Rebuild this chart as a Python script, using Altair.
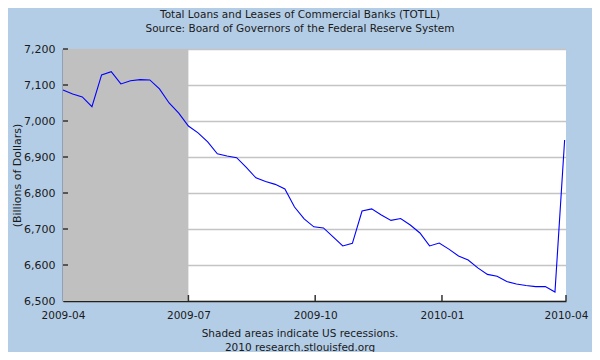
import altair as alt
import pandas as pd

# ---- data -------------------------------------------------------------
dates = [
    "2009-04-01", "2009-04-08", "2009-04-15", "2009-04-22", "2009-04-29",
    "2009-05-06", "2009-05-13", "2009-05-20", "2009-05-27",
    "2009-06-03", "2009-06-10", "2009-06-17", "2009-06-24",
    "2009-07-01", "2009-07-08", "2009-07-15", "2009-07-22", "2009-07-29",
    "2009-08-05", "2009-08-12", "2009-08-19", "2009-08-26",
    "2009-09-02", "2009-09-09", "2009-09-16", "2009-09-23", "2009-09-30",
    "2009-10-07", "2009-10-14", "2009-10-21", "2009-10-28",
    "2009-11-04", "2009-11-11", "2009-11-18", "2009-11-25",
    "2009-12-02", "2009-12-09", "2009-12-16", "2009-12-23", "2009-12-30",
    "2010-01-06", "2010-01-13", "2010-01-20", "2010-01-27",
    "2010-02-03", "2010-02-10", "2010-02-17", "2010-02-24",
    "2010-03-03", "2010-03-10", "2010-03-17", "2010-03-24", "2010-03-31",
]
totll = [
    7086, 7075, 7067, 7040, 7128,
    7137, 7103, 7112, 7115,
    7114, 7089, 7050, 7022,
    6986, 6967, 6942, 6909, 6903,
    6898, 6871, 6842, 6832,
    6824, 6811, 6761, 6728, 6706,
    6703, 6678, 6653, 6660,
    6750, 6756, 6739, 6724,
    6729, 6711, 6689, 6653, 6661,
    6644, 6625, 6614, 6592,
    6574, 6569, 6554, 6547,
    6543, 6540, 6540, 6525, 6947,
]
recession_start = ["2009-04-01"]
recession_end = ["2009-07-01"]
x_ticks = ["2009-04-01", "2009-07-01", "2009-10-01", "2010-01-01", "2010-04-01"]
y_ticks = [6500, 6600, 6700, 6800, 6900, 7000, 7100, 7200]
title_lines = ["Total Loans and Leases of Commercial Banks (TOTLL)",
               "Source: Board of Governors of the Federal Reserve System"]
footer_lines = ["Shaded areas indicate US recessions.",
                "2010 research.stlouisfed.org"]
y_title = "(Billions of Dollars)"

# ---- layout / style ---------------------------------------------------
W, H = 503, 252
FONT = "DejaVu Sans"
BG = "#B4CDE6"
TXT = "#1a1a1a"

df = pd.DataFrame({"date": dates, "value": totll})
rec = pd.DataFrame({"start": recession_start, "end": recession_end,
                    "lo": [y_ticks[0]], "hi": [y_ticks[-1]]})
xt = pd.DataFrame({"d": x_ticks[1:]})
yt = pd.DataFrame({"v": y_ticks[1:]})

def dt(s):
    y, m, d = (int(p) for p in s.split("-"))
    return alt.DateTime(year=y, month=m, date=d, utc=True)

xscale = alt.Scale(type="utc", domain=[dt(x_ticks[0]), dt(x_ticks[-1])])
yscale = alt.Scale(domain=[y_ticks[0], y_ticks[-1]], nice=False, zero=False)

xaxis = alt.Axis(values=[dt(s) for s in x_ticks], format="%Y-%m", title=None,
                 ticks=False, labelPadding=9, grid=False,
                 labelOverlap=False, labelFlush=False,
                 labelFont=FONT, labelFontSize=10.5, labelColor=TXT,
                 domainColor="#222222", domainWidth=1.5)
yaxis = alt.Axis(values=y_ticks, format=",d", title=y_title,
                 ticks=False, labelPadding=8, grid=True,
                 labelOverlap=False, labelFlush=False,
                 gridColor="#C4C4C4", gridWidth=1.5,
                 labelFont=FONT, labelFontSize=11, labelColor=TXT,
                 titleFont=FONT, titleFontSize=11, titleFontWeight="normal",
                 titleColor=TXT, titleX=-46, titleY=H / 2,
                 titleAngle=270, titleAlign="center", titleBaseline="middle",
                 domainColor="#222222", domainWidth=1.5)

line = alt.Chart(df).mark_line(color="#0000FF", strokeWidth=1.1).encode(
    x=alt.X("date:T", scale=xscale, axis=xaxis),
    y=alt.Y("value:Q", scale=yscale, axis=yaxis),
)

shade = alt.Chart(rec).mark_rect(color="#C0C0C0", opacity=1).encode(
    x=alt.X("start:T", scale=xscale, axis=xaxis),
    x2="end:T",
    y=alt.Y("lo:Q", scale=yscale, axis=yaxis),
    y2="hi:Q",
)

ytick_marks = alt.Chart(yt).mark_rule(color="#333333", strokeWidth=1.5).encode(
    y=alt.Y("v:Q", scale=yscale, axis=yaxis),
    x=alt.value(0), x2=alt.value(5),
)
xtick_marks = alt.Chart(xt).mark_rule(color="#333333", strokeWidth=1.5).encode(
    x=alt.X("d:T", scale=xscale, axis=xaxis),
    y=alt.value(H), y2=alt.value(H - 6),
)

def text_layer(txt, xpos, ypos):
    return alt.Chart(pd.DataFrame({"t": [txt]})).mark_text(
        font=FONT, fontSize=10.5, color=TXT, align="center", baseline="middle"
    ).encode(text="t:N", x=alt.value(xpos), y=alt.value(ypos))

CX = 300 - 8 - 55
texts = [
    text_layer(title_lines[0], CX, -34),
    text_layer(title_lines[1], CX, -20),
    text_layer(footer_lines[0], CX, 285),
    text_layer(footer_lines[1], CX, 299),
]

chart = alt.layer(shade, line, ytick_marks, xtick_marks, *texts).properties(
    width=W, height=H,
    autosize="none",
    padding={"left": 55, "top": 41, "right": 26, "bottom": 51},
).configure(background=BG).configure_view(strokeWidth=0, fill="white")

chart.save("out.html", embed_options={"renderer": "svg", "actions": False})
